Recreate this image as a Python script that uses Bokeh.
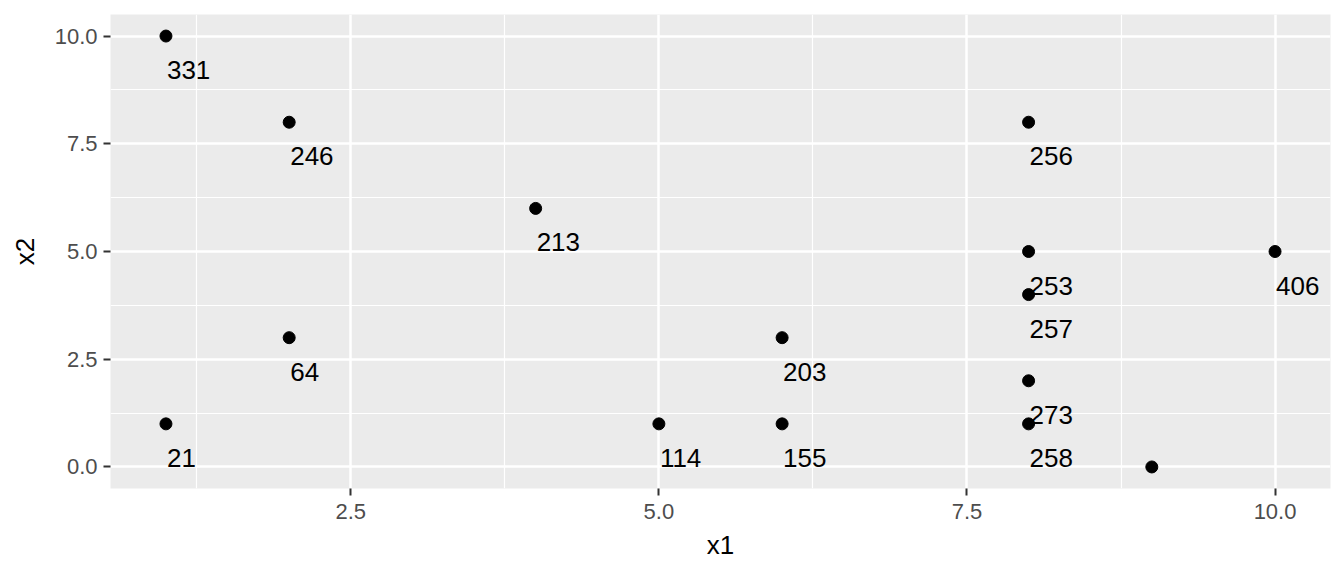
from bokeh.plotting import figure
from bokeh.models import ColumnDataSource, Range1d, FixedTicker
from bokeh.core.properties import value
from bokeh.embed import file_html
from bokeh.resources import INLINE

x1 = [1, 2, 4, 8, 8, 10, 8, 2, 6, 8, 1, 5, 6, 8, 9]
x2 = [10, 8, 6, 8, 5, 5, 4, 3, 3, 2, 1, 1, 1, 1, 0]
labels = ["331", "246", "213", "256", "253", "406", "257", "64", "203", "273",
          "21", "114", "155", "258", ""]

x_ticks = [2.5, 5.0, 7.5, 10.0]
x_minor = [1.25, 3.75, 6.25, 8.75]
y_ticks = [0.0, 2.5, 5.0, 7.5, 10.0]
y_minor = [1.25, 3.75, 6.25, 8.75]

src = ColumnDataSource(dict(x=x1, y=x2, lab=labels))

FONT = "Liberation Sans"

p = figure(width=1336, height=568, output_backend="svg", toolbar_location=None,
           x_range=Range1d(0.55, 10.45), y_range=Range1d(-0.5, 10.5),
           min_border_left=110, min_border_top=14, min_border_right=6,
           min_border_bottom=80)
p.background_fill_color = "#EBEBEB"
p.border_fill_color = "white"
p.outline_line_color = None

p.xaxis.ticker = FixedTicker(ticks=x_ticks, minor_ticks=x_minor)
p.yaxis.ticker = FixedTicker(ticks=y_ticks, minor_ticks=y_minor)
p.xaxis.major_label_overrides = {v: f"{v:.1f}" for v in x_ticks}
p.yaxis.major_label_overrides = {v: f"{v:.1f}" for v in y_ticks}

for g in (p.xgrid, p.ygrid):
    g.grid_line_color = "white"
    g.grid_line_width = 2.5
    g.minor_grid_line_color = "white"
    g.minor_grid_line_width = 1.2

for ax in (p.xaxis, p.yaxis):
    ax.axis_line_color = None
    ax.major_tick_line_color = "#333333"
    ax.major_tick_line_width = 2
    ax.major_tick_out = 7
    ax.major_tick_in = 0
    ax.minor_tick_line_color = None
    ax.major_label_text_color = "#4D4D4D"
    ax.major_label_text_font = FONT
    ax.major_label_text_font_size = "22px"
    ax.axis_label_text_font = FONT
    ax.axis_label_text_font_size = "26px"
    ax.axis_label_text_font_style = "normal"
    ax.axis_label_text_color = "black"

p.xaxis.axis_label = "x1"
p.yaxis.axis_label = "x2"
p.xaxis.major_label_standoff = 8
p.yaxis.major_label_standoff = 6
p.xaxis.axis_label_standoff = 8
p.yaxis.axis_label_standoff = 12

p.scatter("x", "y", source=src, size=12, color="black")
p.text("x", "y", text="lab", source=src, text_align="left", text_baseline="middle",
       y_offset=34, x_offset=1, text_font=value(FONT), text_font_size="26px",
       text_color="black")

open("out.html", "w").write(file_html(p, INLINE))
